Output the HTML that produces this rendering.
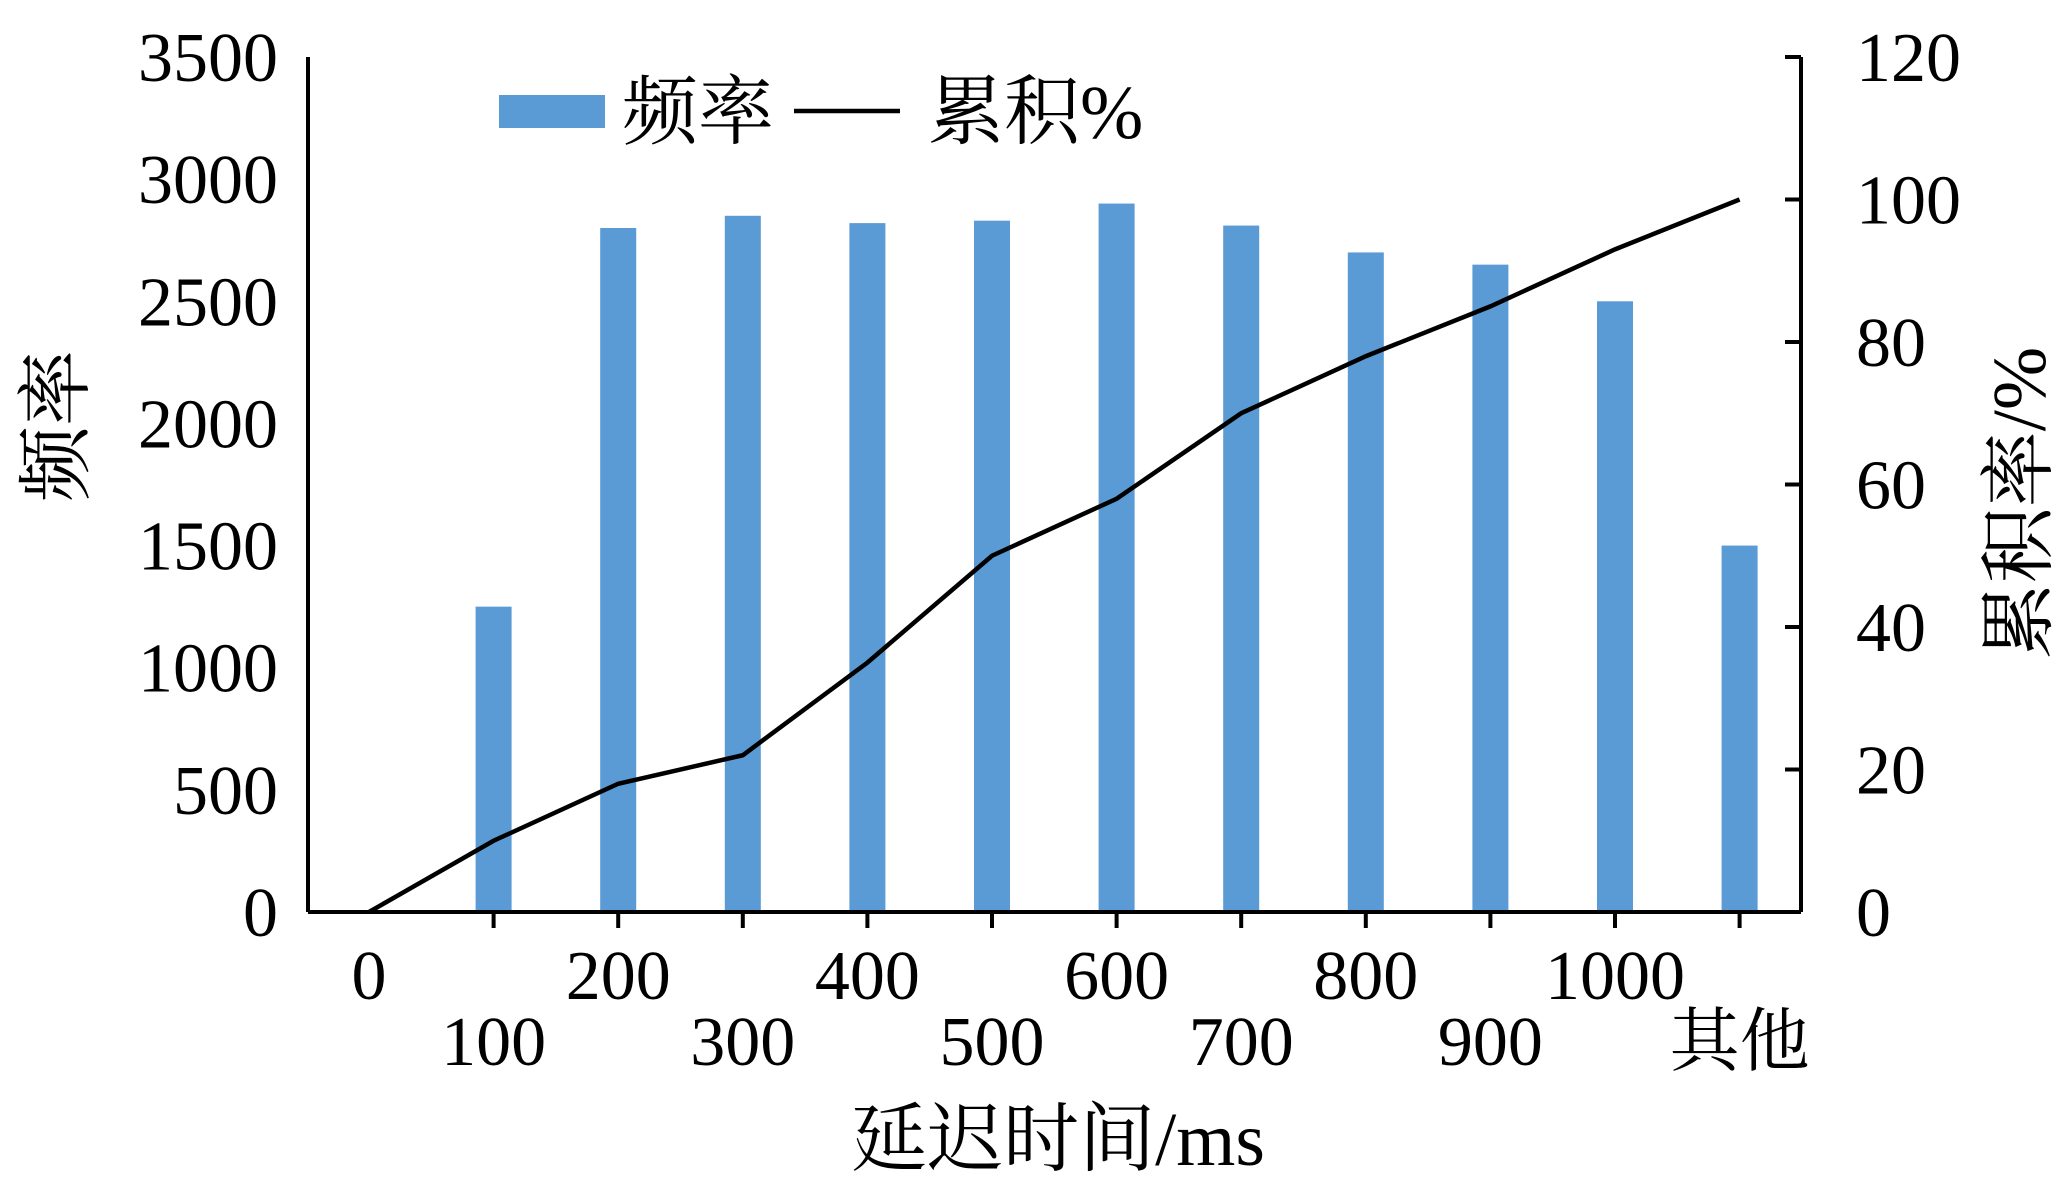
<!DOCTYPE html>
<html><head><meta charset="utf-8"><style>
body{margin:0;background:#fff}
svg text{font-family:"Liberation Serif","Noto Serif CJK SC",serif;fill:#000}
</style></head><body>
<svg width="2064" height="1183" xmlns="http://www.w3.org/2000/svg">
<g id="g"></g>
</svg>
<script>
const categories=["0","100","200","300","400","500","600","700","800","900","1000","其他"];
const freq=[null,1250,2800,2850,2820,2830,2900,2810,2700,2650,2500,1500];
const cum=[0,10,18,22,35,50,58,70,78,85,93,100];
const leftTicks=[0,500,1000,1500,2000,2500,3000,3500];
const rightTicks=[0,20,40,60,80,100,120];
const L=308,R=1801,T=57,B=912,X0=369,STEP=124.6,BW=36;
const xs=i=>X0+i*STEP;
const yl=v=>B-(v/3500)*(B-T);
const yr=v=>B-(v/120)*(B-T);
const g=document.getElementById('g');
const NS='http://www.w3.org/2000/svg';
function mk(t,a,txt){const e=document.createElementNS(NS,t);for(const k in a)e.setAttribute(k,a[k]);if(txt!==undefined)e.textContent=txt;g.appendChild(e);return e;}
freq.forEach((v,i)=>{if(v==null)return;const e=mk('rect',{x:xs(i)-BW/2,y:yl(v),width:BW,height:B-yl(v),fill:'#5b9bd5'});

});
const pl=mk('polyline',{points:cum.map((v,i)=>xs(i)+','+yr(v)).join(' '),fill:'none',stroke:'#000','stroke-width':4.5});


let a=mk('line',{x1:L,y1:T,x2:L,y2:B,stroke:'#000','stroke-width':4});


a=mk('line',{x1:R,y1:T,x2:R,y2:B,stroke:'#000','stroke-width':4});


a=mk('line',{x1:L,y1:B,x2:R,y2:B,stroke:'#000','stroke-width':4});


leftTicks.forEach(v=>{
const t=mk('text',{x:278,y:yl(v)+24,'font-size':70,'text-anchor':'end'},v);

});
rightTicks.forEach(v=>{mk('line',{x1:R-16,y1:yr(v),x2:R,y2:yr(v),stroke:'#000','stroke-width':4});
const t=mk('text',{x:1856,y:yr(v)+24,'font-size':70},v);

});
categories.forEach((c,i)=>{if(i>0)mk('line',{x1:xs(i),y1:B,x2:xs(i),y2:B+16,stroke:'#000','stroke-width':4});
const t=mk('text',{x:xs(i),y:i%2==0?999:1065,'font-size':70,'text-anchor':'middle'},c);

});
</script>
<svg style="position:absolute;left:0;top:0" width="2064" height="1183" xmlns="http://www.w3.org/2000/svg">
<text x="1058" y="1165" font-size="76" text-anchor="middle">延迟时间/ms</text>
<text transform="translate(82,426) rotate(-90)" font-size="76" text-anchor="middle">频率</text>
<text transform="translate(2045,503) rotate(-90)" font-size="76" text-anchor="middle">累积率/%</text>
<g>
<rect x="499" y="95" width="106" height="33" fill="#5b9bd5"/>
<text x="622" y="138" font-size="76">频率</text>
<line x1="794" y1="111" x2="900" y2="111" stroke="#000" stroke-width="4.5"/>
<text x="928" y="138" font-size="76">累积%</text>
</g>
</svg>
</body></html>
